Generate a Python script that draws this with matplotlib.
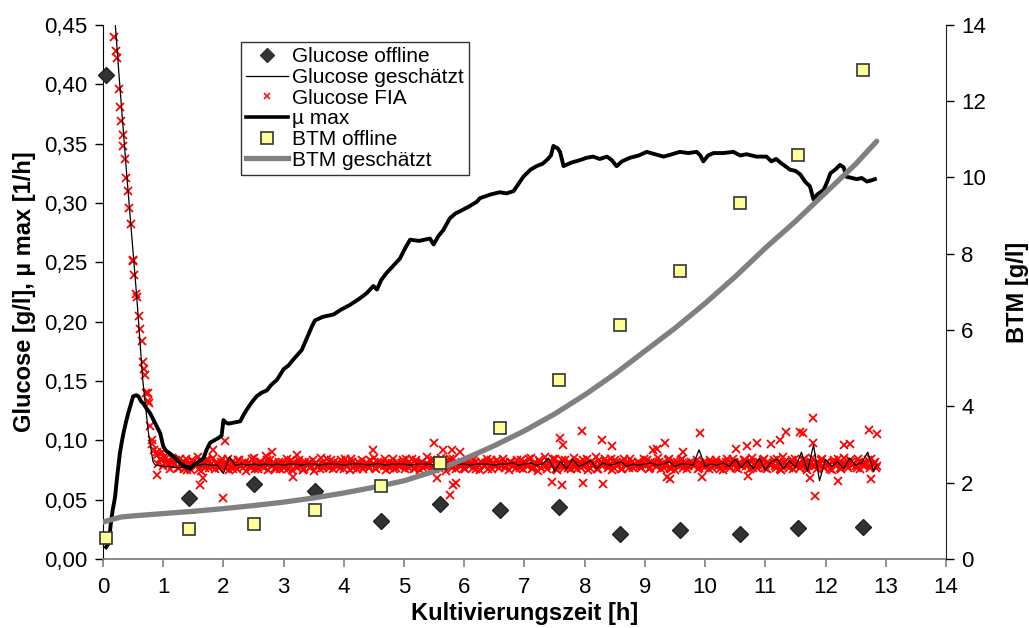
import numpy as np
import matplotlib
matplotlib.use("Agg")
import matplotlib.pyplot as plt
from matplotlib.ticker import FuncFormatter, MultipleLocator
from matplotlib.lines import Line2D

plt.rcParams['font.family'] = ['Liberation Sans', 'DejaVu Sans']

# ---------------- data ----------------
# offline samples
t_offline = [0.05, 1.42, 2.50, 3.52, 4.62, 5.60, 6.60, 7.58, 8.58, 9.58, 10.58, 11.55, 12.63]
glucose_offline = [0.408, 0.051, 0.063, 0.057, 0.032, 0.046, 0.041, 0.044, 0.021, 0.024, 0.021, 0.026, 0.027]
btm_offline = [0.55, 0.79, 0.93, 1.28, 1.91, 2.51, 3.43, 4.70, 6.14, 7.54, 9.32, 10.58, 12.81]

# BTM estimated (right axis, g/l)
t_btm_est = [0.0, 0.3, 0.5, 1.0, 1.5, 2.0, 2.5, 3.0, 3.5, 4.0, 4.5, 5.0, 5.5, 6.0, 6.5,
             7.0, 7.5, 8.0, 8.5, 9.0, 9.5, 10.0, 10.5, 11.0, 11.5, 12.0, 12.5, 12.85]
btm_est = [0.97, 1.10, 1.13, 1.19, 1.25, 1.32, 1.40, 1.49, 1.60, 1.73, 1.88, 2.05, 2.30, 2.62, 2.97,
           3.36, 3.80, 4.30, 4.85, 5.45, 6.05, 6.70, 7.40, 8.15, 8.85, 9.60, 10.35, 10.95]

# mu max (left axis, 1/h)
t_mu = [0.05, 0.08, 0.11, 0.13, 0.16, 0.20, 0.23, 0.26, 0.28, 0.31, 0.34, 0.38, 0.42, 0.46, 0.50,
        0.55, 0.59, 0.63, 0.67, 0.72, 0.78, 0.83, 0.89, 0.95, 1.00, 1.05, 1.11, 1.20, 1.28, 1.36,
        1.45, 1.50, 1.56, 1.67, 1.72, 1.78, 1.85, 1.92, 1.97, 2.00, 2.04, 2.08, 2.18, 2.28, 2.33,
        2.39, 2.47, 2.55, 2.63, 2.72, 2.80, 2.89, 3.00, 3.08, 3.16, 3.23, 3.30, 3.36, 3.41, 3.47,
        3.52, 3.65, 3.83, 3.95, 4.10, 4.25, 4.38, 4.49, 4.55, 4.62, 4.71, 4.82, 4.93, 5.02, 5.10,
        5.25, 5.43, 5.49, 5.57, 5.65, 5.76, 5.85, 5.93, 6.08, 6.21, 6.26, 6.43, 6.59, 6.70, 6.82,
        6.90, 6.98, 7.10, 7.20, 7.30, 7.37, 7.44, 7.48, 7.55, 7.59, 7.65, 7.78, 7.92, 8.03, 8.14,
        8.25, 8.37, 8.45, 8.53, 8.62, 8.75, 8.90, 9.03, 9.17, 9.31, 9.45, 9.58, 9.72, 9.86, 9.92,
        9.97, 10.05, 10.14, 10.30, 10.47, 10.58, 10.69, 10.85, 11.02, 11.10, 11.18, 11.25, 11.33, 11.41, 11.50,
        11.58, 11.66, 11.74, 11.80, 11.86, 11.97, 12.03, 12.08, 12.16, 12.24, 12.30, 12.35, 12.44, 12.52, 12.60,
        12.69, 12.76, 12.82]
mu_max = [0.010, 0.012, 0.020, 0.030, 0.041, 0.052, 0.067, 0.080, 0.089, 0.098, 0.106, 0.115, 0.123, 0.130, 0.137,
          0.138, 0.137, 0.133, 0.131, 0.127, 0.123, 0.118, 0.112, 0.106, 0.095, 0.091, 0.089, 0.085, 0.081, 0.078,
          0.076, 0.079, 0.081, 0.085, 0.092, 0.098, 0.100, 0.102, 0.104, 0.117, 0.115, 0.114, 0.115, 0.116, 0.121,
          0.126, 0.132, 0.137, 0.140, 0.142, 0.147, 0.151, 0.160, 0.163, 0.168, 0.172, 0.176, 0.183, 0.189, 0.196,
          0.201, 0.204, 0.206, 0.210, 0.214, 0.219, 0.224, 0.230, 0.227, 0.235, 0.241, 0.247, 0.253, 0.262, 0.269,
          0.268, 0.270, 0.265, 0.272, 0.277, 0.287, 0.291, 0.293, 0.297, 0.301, 0.304, 0.307, 0.309, 0.308, 0.310,
          0.316, 0.322, 0.328, 0.331, 0.333, 0.336, 0.340, 0.348, 0.346, 0.343, 0.331, 0.334, 0.336, 0.338, 0.339,
          0.337, 0.339, 0.336, 0.331, 0.335, 0.338, 0.340, 0.343, 0.341, 0.339, 0.341, 0.343, 0.342, 0.343, 0.340,
          0.335, 0.340, 0.342, 0.342, 0.343, 0.340, 0.341, 0.339, 0.339, 0.335, 0.337, 0.334, 0.331, 0.328, 0.327,
          0.324, 0.318, 0.314, 0.303, 0.307, 0.311, 0.318, 0.325, 0.328, 0.332, 0.330, 0.322, 0.321, 0.320, 0.321,
          0.318, 0.319, 0.320]

# Glucose estimated: early decline, then sampled every 0.1 h from 0.9 h (values in mg/l /1000 -> g/l)
t_gest_early = [0.19, 0.27, 0.40, 0.56, 0.66, 0.75, 0.83, 0.87]
gest_early = [0.460, 0.405, 0.320, 0.221, 0.151, 0.108, 0.082, 0.079]
gest_flat_start, gest_flat_step = 0.9, 0.1
gest_flat_mgl = [79, 78, 78, 77, 77, 78, 79, 79, 80, 79,
                 79, 72, 86, 79, 80, 79, 80, 79, 80, 79,
                 80, 79, 80, 80, 79, 80, 80, 79, 80, 80,
                 80, 79, 80, 80, 80, 79, 80, 80, 79, 80,
                 80, 80, 79, 80, 80, 80, 79, 80, 81, 79,
                 80, 80, 79, 80, 80, 80, 79, 80, 80, 81,
                 79, 80, 81, 79, 80, 85, 74, 82, 76, 84,
                 78, 80, 83, 76, 81, 79, 80, 82, 78, 80,
                 79, 80, 81, 79, 80, 82, 78, 80, 80, 79,
                 92, 78, 80, 79, 81, 78, 84, 77, 83, 76,
                 85, 75, 82, 84, 76, 83, 77, 90, 74, 96,
                 66, 84, 78, 82, 76, 85, 79, 81, 90, 74, 79]

# Glucose FIA: early decline points
t_fia_early = [0.18, 0.22, 0.23, 0.27, 0.28, 0.30, 0.33, 0.34, 0.37, 0.39, 0.41, 0.43, 0.47, 0.49, 0.50,
               0.52, 0.55, 0.56, 0.60, 0.62, 0.64, 0.66, 0.68, 0.69, 0.72, 0.74, 0.75, 0.76, 0.78, 0.81,
               0.82, 0.84]
fia_early = [0.440, 0.428, 0.422, 0.396, 0.381, 0.369, 0.357, 0.348, 0.337, 0.321, 0.310, 0.296, 0.282, 0.252, 0.251,
             0.239, 0.223, 0.221, 0.205, 0.194, 0.184, 0.166, 0.160, 0.155, 0.140, 0.140, 0.133, 0.131, 0.112, 0.100,
             0.097, 0.092]
# Glucose FIA: regular samples every 0.04 h from 0.9 h (mg/l /1000 -> g/l)
fia_start, fia_step = 0.90, 0.04
fia_mgl = [88, 84, 90, 86, 82, 80, 85, 79, 83, 77, 81, 76, 84, 79, 75, 82, 78, 86, 74, 80, 77, 83, 79, 85, 76,
           81, 78, 84, 77, 80, 75, 82, 79, 76, 83, 78, 80, 74, 81, 77, 85, 79, 76, 82, 78, 80, 75, 83, 79, 77,
           80, 76, 82, 78, 84, 79, 75, 81, 77, 83, 80, 76, 79, 82, 78, 74, 81, 79, 85, 77, 80, 78, 83, 76, 79,
           81, 77, 80, 84, 78, 75, 82, 79, 76, 80, 83, 78, 81, 77, 79, 85, 76, 80, 82, 78, 75, 81, 79, 84, 77,
           80, 78, 83, 76, 81, 79, 84, 77, 80, 75, 82, 78, 86, 79, 76, 83, 80, 77, 85, 78, 74, 82, 79, 84, 76,
           81, 78, 80, 76, 83, 79, 77, 82, 80, 75, 81, 78, 84, 79, 76, 80, 83, 77, 79, 81, 78, 75, 82, 80, 77,
           79, 83, 76, 81, 78, 85, 77, 80, 74, 82, 79, 86, 76, 81, 78, 84, 75, 80, 83, 77, 79, 82, 76, 85, 78,
           80, 77, 83, 79, 75, 82, 78, 86, 76, 81, 79, 84, 77, 80, 75, 83, 78, 81, 76, 84, 79, 77, 82, 80, 78,
           81, 77, 84, 79, 76, 82, 80, 78, 85, 76, 81, 79, 83, 77, 80, 75, 82, 78, 84, 79, 76, 81, 80, 78, 83,
           77, 80, 82, 78, 76, 81, 79, 83, 78, 80, 75, 82, 79, 77, 84, 80, 76, 81, 78, 83, 79, 76, 85, 80, 77,
           82, 78, 84, 76, 80, 79, 83, 77, 81, 75, 86, 79, 78, 82, 76, 84, 80, 77, 83, 79, 75, 81, 85, 78, 76,
           80, 84, 77, 82, 79, 75, 83, 78, 81, 76, 85, 79, 77, 82, 80, 78, 84, 76, 81, 79, 83, 77, 80, 82, 78]
# second interleaved set of FIA samples (offset 0.02 h)
fia2_start, fia2_step = 0.92, 0.04
fia2_mgl = [80, 83, 78, 85, 79, 76, 82, 80, 77, 84, 79, 81, 75, 80, 83, 78, 80, 76, 82, 79, 84, 77, 80, 78, 81,
            77, 82, 79, 80, 84, 78, 76, 81, 83, 79, 77, 82, 80, 78, 84, 76, 80, 82, 79, 77, 83, 80, 78, 81, 76,
            82, 79, 77, 80, 76, 83, 81, 78, 80, 79, 75, 82, 80, 77, 83, 80, 78, 76, 81, 79, 84, 77, 80, 82, 78,
            79, 83, 76, 80, 81, 84, 77, 80, 82, 78, 76, 81, 79, 83, 80, 77, 82, 78, 80, 84, 79, 77, 81, 76, 82,
            78, 81, 79, 84, 77, 80, 76, 83, 79, 81, 77, 80, 79, 83, 78, 76, 81, 80, 78, 82, 79, 84, 77, 80, 81,
            79, 82, 77, 81, 78, 80, 84, 76, 79, 82, 78, 81, 76, 83, 80, 78, 81, 79, 84, 77, 80, 82, 78, 80, 83,
            77, 80, 82, 78, 84, 76, 81, 79, 83, 77, 80, 78, 82, 79, 84, 76, 81, 80, 78, 83, 77, 80, 79, 81, 76,
            82, 79, 80, 84, 77, 79, 81, 76, 83, 78, 80, 82, 79, 84, 77, 81, 79, 76, 82, 78, 81, 84, 77, 79, 82,
            78, 80, 79, 83, 77, 80, 81, 78, 82, 79, 77, 80, 84, 76, 82, 79, 80, 83, 77, 81, 78, 82, 80, 79, 76,
            81, 78, 80, 79, 83, 77, 81, 80, 76, 82, 79, 84, 78, 80, 82, 77, 81, 79, 83, 78, 80, 82, 77, 81, 79,
            80, 83, 77, 82, 79, 81, 78, 84, 76, 80, 82, 79, 77, 83, 80, 78, 81, 79, 84, 77, 80, 82, 78, 81, 80,
            83, 78, 81, 79, 76, 82, 80, 84, 77, 80, 81, 78, 83, 79, 80, 77, 82, 80, 78, 81, 79, 84, 80, 77]
# Glucose FIA: outliers
t_fia_out = [0.89, 0.90, 1.61, 1.66, 1.83, 2.00, 2.03, 2.70, 2.80, 3.16, 3.22, 4.49, 5.49, 5.54, 5.65,
             5.76, 5.79, 5.82, 5.87, 5.93, 7.45, 7.59, 7.62, 7.64, 7.95, 7.98, 8.28, 8.31, 8.45, 9.14,
             9.20, 9.34, 9.36, 9.42, 9.63, 9.92, 9.95, 10.52, 10.70, 10.72, 10.86, 11.10, 11.25, 11.35, 11.58,
             11.63, 11.75, 11.79, 11.80, 11.83, 12.20, 12.30, 12.40, 12.72, 12.75, 12.86]
fia_out = [0.071, 0.090, 0.062, 0.068, 0.092, 0.051, 0.099, 0.087, 0.090, 0.069, 0.088, 0.092, 0.098, 0.068, 0.092,
           0.054, 0.092, 0.062, 0.064, 0.090, 0.065, 0.102, 0.062, 0.096, 0.108, 0.064, 0.100, 0.063, 0.095, 0.092,
           0.093, 0.098, 0.069, 0.067, 0.090, 0.106, 0.069, 0.093, 0.095, 0.070, 0.098, 0.097, 0.100, 0.107, 0.107,
           0.106, 0.068, 0.119, 0.098, 0.053, 0.066, 0.096, 0.097, 0.109, 0.067, 0.105]

# ---------------- assemble ----------------
t_gest = list(t_gest_early) + [gest_flat_start + gest_flat_step * i for i in range(len(gest_flat_mgl) - 1)] + [12.85]
g_est = list(gest_early) + [v / 1000 for v in gest_flat_mgl]

t_fia = (list(t_fia_early)
         + [fia_start + fia_step * i for i in range(len(fia_mgl))]
         + [fia2_start + fia2_step * i for i in range(len(fia2_mgl))]
         + list(t_fia_out))
g_fia = (list(fia_early) + [v / 1000 for v in fia_mgl] + [v / 1000 for v in fia2_mgl]
         + list(fia_out))

# ---------------- plot ----------------
fig = plt.figure(figsize=(10.29, 6.28), dpi=100)
ax = fig.add_axes([0.1001, 0.1099, 0.8192, 0.8505])
ax2 = ax.twinx()

ax.plot(t_fia, g_fia, linestyle='none', marker='x', color='#FF0000', ms=6, mew=1.3, zorder=2)
ax.plot(t_gest, g_est, color='black', lw=0.9, zorder=3)
ax.plot(t_mu, mu_max, color='black', lw=2.8, zorder=4)
ax.plot(t_offline, glucose_offline, linestyle='none', marker='D', ms=8, color='#333333',
        mec='#222222', zorder=5, clip_on=False)

ax2.plot(t_btm_est, btm_est, color='#808080', lw=3.8, solid_capstyle='round', zorder=3)
ax2.plot(t_offline, btm_offline, linestyle='none', marker='s', ms=9, mfc='#FFFF99',
         mec='#333333', mew=1.2, zorder=4, clip_on=False)

ax.set_xlim(0, 14)
ax.set_ylim(0, 0.45)
ax2.set_ylim(0, 14)
ax.xaxis.set_major_locator(MultipleLocator(1))
ax.yaxis.set_major_locator(MultipleLocator(0.05))
ax2.yaxis.set_major_locator(MultipleLocator(2))
ax.yaxis.set_major_formatter(FuncFormatter(lambda v, p: f"{v:.2f}".replace('.', ',')))

for a in (ax, ax2):
    a.spines['top'].set_visible(False)
ax.spines['bottom'].set_color('#808080')
ax.spines['bottom'].set_linewidth(1.3)
ax2.spines['bottom'].set_visible(False)
ax.spines['left'].set_color('black')
ax2.spines['right'].set_color('#222222')
ax2.spines['left'].set_visible(False)
ax.spines['right'].set_visible(False)

ax.tick_params(axis='x', direction='out', length=6, width=1.2, color='#808080', labelsize=16, pad=7)
ax.tick_params(axis='y', direction='out', length=6, width=1, labelsize=16, pad=5)
ax2.tick_params(axis='y', direction='out', length=6, width=1, labelsize=16, pad=5)

ax.set_xlabel('Kultivierungszeit [h]', fontsize=17, fontweight='bold', labelpad=3)
ax.set_ylabel('Glucose [g/l], µ max [1/h]', fontsize=17, fontweight='bold', labelpad=6)
ax2.set_ylabel('BTM [g/l]', fontsize=17, fontweight='bold', labelpad=14)

handles = [
    Line2D([], [], linestyle='none', marker='D', ms=7, color='#333333'),
    Line2D([], [], color='black', lw=0.9),
    Line2D([], [], linestyle='none', marker='x', ms=5, mew=1.1, color='#FF0000'),
    Line2D([], [], color='black', lw=2.6),
    Line2D([], [], linestyle='none', marker='s', ms=8, mfc='#FFFF99', mec='#333333', mew=1.2),
    Line2D([], [], color='#808080', lw=3.8),
]
labels = ['Glucose offline', 'Glucose geschätzt', 'Glucose FIA', 'µ max', 'BTM offline', 'BTM geschätzt']
leg = ax2.legend(handles, labels, loc='upper left', bbox_to_anchor=(0.164, 0.968),
                 fontsize=15, frameon=True, fancybox=False, shadow=False,
                 handlelength=2.0, handletextpad=0.2, labelspacing=0.08,
                 borderpad=0.25, borderaxespad=0, framealpha=1)
leg.get_frame().set_edgecolor('#333333')
leg.get_frame().set_linewidth(1.0)
leg.set_zorder(10)

fig.savefig('out.png', dpi=100)
